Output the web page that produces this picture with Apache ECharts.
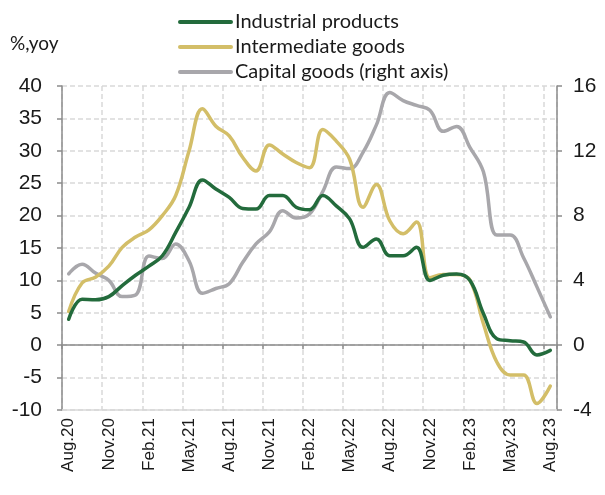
<!DOCTYPE html>
<html>
<head>
<meta charset="UTF-8">
<title></title>
<script src="https://cdn.jsdelivr.net/npm/echarts@6/dist/echarts.min.js"></script>
<style>
  html, body { margin: 0; padding: 0; background: #fff; }
</style>
</head>
<body>
    <div id='container' style="width: 605px; height: 495px;"></div>
    <script type="text/javascript">
    // months, one per point, labels shown every 3rd
    var months = ['Aug.20','Sep.20','Oct.20','Nov.20','Dec.20','Jan.21','Feb.21','Mar.21','Apr.21',
        'May.21','Jun.21','Jul.21','Aug.21','Sep.21','Oct.21','Nov.21','Dec.21','Jan.22','Feb.22',
        'Mar.22','Apr.22','May.22','Jun.22','Jul.22','Aug.22','Sep.22','Oct.22','Nov.22','Dec.22',
        'Jan.23','Feb.23','Mar.23','Apr.23','May.23','Jun.23','Jul.23','Aug.23'];

    // left axis, %,yoy
    var industrial = [4.0, 7.1, 7.0, 7.5, 9.2, 10.8, 12.2, 13.8, 17.4, 21.3, 25.5, 24.1, 22.8,
        21.1, 21.0, 23.1, 23.1, 21.3, 20.9, 23.1, 21.5, 19.5, 15.1, 16.4, 13.8, 13.8, 15.1,
        10.0, 10.8, 11.0, 10.0, 4.9, 1.0, 0.7, 0.5, -1.5, -0.8];
    var intermediate = [5.2, 9.6, 10.5, 12.2, 15.1, 16.7, 17.8, 20.0, 23.1, 30.0, 36.5, 33.8, 32.3,
        29.0, 26.9, 30.9, 29.5, 28.2, 27.4, 33.3, 31.5, 28.7, 21.3, 24.8, 19.2, 17.2, 19.0,
        10.4, 10.9, 10.9, 10.0, 3.3, -2.6, -4.6, -4.6, -9.0, -6.3];
    // right axis
    var capital = [4.4, 5.0, 4.45, 4.0, 3.0, 3.1, 5.5, 5.35, 6.25, 5.2, 3.2, 3.5, 3.8,
        5.1, 6.25, 7.0, 8.3, 7.85, 8.1, 9.5, 11.0, 10.9, 11.9, 13.6, 15.6, 15.1, 14.8,
        14.5, 13.2, 13.5, 12.2, 10.7, 6.8, 6.8, 5.4, 3.6, 1.75];

    var gridColor = '#d9d9d9', axisColor = '#8c8c8c', txt = '#1a1a1a';
    var labelFont = 'Liberation Sans', legendFont = 'Lato';

    var mychart = echarts.init(document.getElementById("container"));
    var option = {
        animation: false,
        graphic: [{
            type: 'text', left: 10, top: 34,
            style: { text: '%,yoy', fontSize: 19, fontFamily: legendFont, fill: txt }
        }],
        legend: {
            orient: 'vertical',
            left: 173, top: 7,
            itemWidth: 55, itemHeight: 20, itemGap: 5,
            icon: 'path://M2,8 L53,8 A2,2 0 0 1 53,12 L2,12 A2,2 0 0 1 2,8 Z',
            textStyle: { fontSize: 20, fontFamily: legendFont, color: txt, padding: [0, 0, 0, -3] },
            data: ['Industrial products', 'Intermediate goods', 'Capital goods (right axis)']
        },
        grid: { left: 62, right: 48, top: 86, bottom: 85 },
        xAxis: [{
            type: 'category',
            data: months,
            boundaryGap: true,
            axisLine: { show: true, onZero: false, lineStyle: { color: gridColor, width: 1.5 } },
            axisTick: { show: false },
            axisLabel: { interval: 2, rotate: 90, margin: 8, fontSize: 17, fontFamily: labelFont, color: txt },
            splitLine: { show: true, interval: 2, lineStyle: { color: gridColor, width: 1.5, type: [5, 3] } }
        }, {
            type: 'category',
            data: months,
            position: 'bottom',
            boundaryGap: true,
            axisLine: { show: true, onZero: true, onZeroAxisIndex: 0, lineStyle: { color: axisColor, width: 1.5 } },
            axisTick: { show: true, interval: 2, length: 4, lineStyle: { color: axisColor, width: 1.5 } },
            axisLabel: { show: false },
            splitLine: { show: false }
        }],
        yAxis: [{
            type: 'value',
            min: -10, max: 40, interval: 5,
            axisLine: { show: true, lineStyle: { color: axisColor, width: 1.5 } },
            axisTick: { show: true, length: 5, lineStyle: { color: axisColor, width: 1.5 } },
            axisLabel: { margin: 20, fontSize: 21, fontFamily: labelFont, color: txt },
            splitLine: { show: true, lineStyle: { color: gridColor, width: 1.5, type: [5, 3] } }
        }, {
            type: 'value',
            min: -4, max: 16, interval: 4,
            axisLine: { show: true, lineStyle: { color: axisColor, width: 1.5 } },
            axisTick: { show: true, length: 5, lineStyle: { color: axisColor, width: 1.5 } },
            axisLabel: { margin: 16, fontSize: 21, fontFamily: labelFont, color: txt },
            splitLine: { show: false }
        }],
        series: [{
            name: 'Industrial products', type: 'line', data: industrial,
            xAxisIndex: 0, yAxisIndex: 0, smooth: 0.4, symbol: 'none', z: 4,
            itemStyle: { color: '#236b3c' },
            lineStyle: { color: '#236b3c', width: 3.5, cap: 'round', join: 'round' }
        }, {
            name: 'Intermediate goods', type: 'line', data: intermediate,
            xAxisIndex: 0, yAxisIndex: 0, smooth: 0.4, symbol: 'none', z: 3,
            itemStyle: { color: '#d3be68' },
            lineStyle: { color: '#d3be68', width: 3.5, cap: 'round', join: 'round' }
        }, {
            name: 'Capital goods (right axis)', type: 'line', data: capital,
            xAxisIndex: 0, yAxisIndex: 1, smooth: 0.4, symbol: 'none', z: 2,
            itemStyle: { color: '#a8a7ab' },
            lineStyle: { color: '#a8a7ab', width: 3.5, cap: 'round', join: 'round' }
        }]
    };
    mychart.setOption(option);
    </script>
</body>
</html>
